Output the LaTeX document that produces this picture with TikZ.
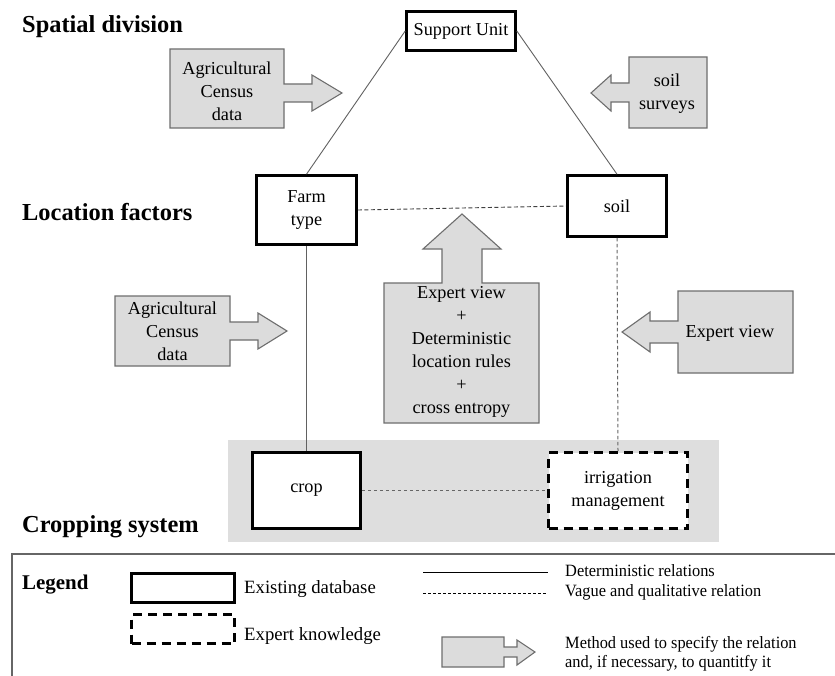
\documentclass[tikz,border=0pt]{standalone}
\usepackage{fontspec}
\setmainfont{Liberation Serif}
\newfontfamily\legcond[FakeStretch=0.95]{Liberation Serif}
\newcommand\mainsz{\fontsize{18.3}{23}\selectfont}
\newcommand\titlesz{\fontsize{24.5}{28}\selectfont\bfseries}
\newcommand\legsz{\fontsize{18.8}{22}\selectfont}
\newcommand\legrsz{\legcond\fontsize{17.3}{18}\selectfont}
\definecolor{bandgray}{HTML}{DEDEDE}
\definecolor{methodfill}{HTML}{DCDCDC}
\definecolor{methoddraw}{HTML}{6E6E6E}
\tikzset{
  dbbox/.style={draw=black, line width=2.6bp, fill=white, inner sep=0pt, align=center, font=\mainsz},
  expbox/.style={dbbox, dash pattern=on 9bp off 6bp},
  det/.style={draw=black!62, line width=0.9bp},
  vague/.style={draw=black!75, line width=0.9bp, dash pattern=on 4bp off 2.5bp},
  vaguegray/.style={draw=black!60, line width=1bp, dash pattern=on 3.5bp off 2.5bp},
  method/.style={draw=methoddraw, fill=methodfill, line width=1.1bp, line join=miter},
  mtext/.style={align=center, font=\mainsz, inner sep=0pt},
  titletext/.style={font=\titlesz, anchor=base west, inner sep=0pt},
  legtext/.style={font=\legsz, anchor=base west, inner sep=0pt},
  legrtext/.style={font=\legrsz, anchor=base west, inner sep=0pt},
  legframe/.style={draw=black!60, line width=1.4bp}
}
\begin{document}
\begin{tikzpicture}[x=1bp,y=-1bp]
\useasboundingbox (0,0) rectangle (835,676);
\clip (0,0) rectangle (835,676);
\fill[white] (0,0) rectangle (835,676);

% grey band of the cropping system
\fill[bandgray] (228,440) rectangle (719,542);

% level titles
\node[titletext] (tsd) at (22,33) {Spatial division};
\node[titletext] (tlf) at (22,220) {Location factors};
\node[titletext] (tcs) at (22,532) {Cropping system};

% boxes
\node[dbbox, minimum width=109bp, minimum height=39bp] (su) at (461,31) {Support Unit};
\node[dbbox, minimum width=100bp, minimum height=69bp] (ft) at (306.5,210) {Farm\\type};
\node[dbbox, minimum width=99bp, minimum height=61bp] (soil) at (617,206) {soil};
\node[dbbox, minimum width=108bp, minimum height=76bp] (crop) at (306.5,490.5) {crop};
\node[expbox, minimum width=139bp, minimum height=76bp] (irr) at (618,490.5) {irrigation\\management};

% connectors
\draw[det] (su.west) -- (ft.north);
\draw[det] (su.east) -- (soil.north);
\draw[vague] (ft.east) -- (soil.west);
\draw[det] (ft.south) -- (crop.north);
\draw[vaguegray] (soil.south) -- (irr.north);
\draw[vaguegray] (crop.east) -- (irr.west);

% method arrows
\draw[method] (170,49) -- (284,49) -- (284,84) -- (312,84) -- (312,75) -- (342,93) -- (312,111) -- (312,102) -- (284,102) -- (284,128) -- (170,128) -- cycle;
\node[mtext] (m1) at (227,91) {Agricultural\\Census\\data};

\draw[method] (707,57) -- (629,57) -- (629,83) -- (611,83) -- (611,75) -- (591,93) -- (611,111) -- (611,102) -- (629,102) -- (629,128) -- (707,128) -- cycle;
\node[mtext] (m2) at (667,94) {soil\\surveys};

\draw[method] (115,296) -- (230,296) -- (230,322) -- (258,322) -- (258,313) -- (287,331) -- (258,349) -- (258,340) -- (230,340) -- (230,366) -- (115,366) -- cycle;
\node[mtext] (m3) at (172.5,331) {Agricultural\\Census\\data};

\draw[method] (384,283) -- (442,283) -- (442,249) -- (423,249) -- (462,214) -- (501,249) -- (482,249) -- (482,283) -- (539,283) -- (539,423) -- (384,423) -- cycle;
\node[mtext] (m4) at (461.5,352) {Expert view\\+\\Deterministic\\location rules\\+\\cross entropy};

\draw[method] (793,291) -- (678,291) -- (678,321) -- (650,321) -- (650,312) -- (622,332) -- (650,352) -- (650,343) -- (678,343) -- (678,373) -- (793,373) -- cycle;
\node[mtext] (m5) at (730,333) {Expert view};

% legend
\draw[legframe] (12,700) -- (12,554) -- (850,554);
\node[titletext, font=\fontsize{21}{25}\selectfont\bfseries] (lg) at (22,589) {Legend};
\node[dbbox, minimum width=103bp, minimum height=29bp] (ldb) at (183,588) {};
\node[expbox, minimum width=103bp, minimum height=29bp] (lek) at (183,629) {};
\node[legtext] (ldbt) at (244,593) {Existing database};
\node[legtext] (lekt) at (244,640) {Expert knowledge};
\coordinate (ds) at (423,572);
\coordinate (de) at (548,572);
\draw[black, line width=0.9bp] (ds) -- (de);
\coordinate (vs) at (423,593);
\coordinate (ve) at (548,593);
\draw[black, line width=0.9bp, dash pattern=on 3bp off 2bp] (vs) -- (ve);
\node[legrtext] (ldet) at (565,576) {Deterministic relations};
\node[legrtext] (lvag) at (565,596) {Vague and qualitative relation};
\draw[method] (442,637) -- (504,637) -- (504,647) -- (517,647) -- (517,640) -- (535,652) -- (517,665) -- (517,657) -- (504,657) -- (504,667) -- (442,667) -- cycle;
\node[legrtext] (lm1) at (565,648) {Method used to specify the relation};
\node[legrtext] (lm2) at (565,667) {and, if necessary, to quantitfy it};
\end{tikzpicture}
\end{document}
